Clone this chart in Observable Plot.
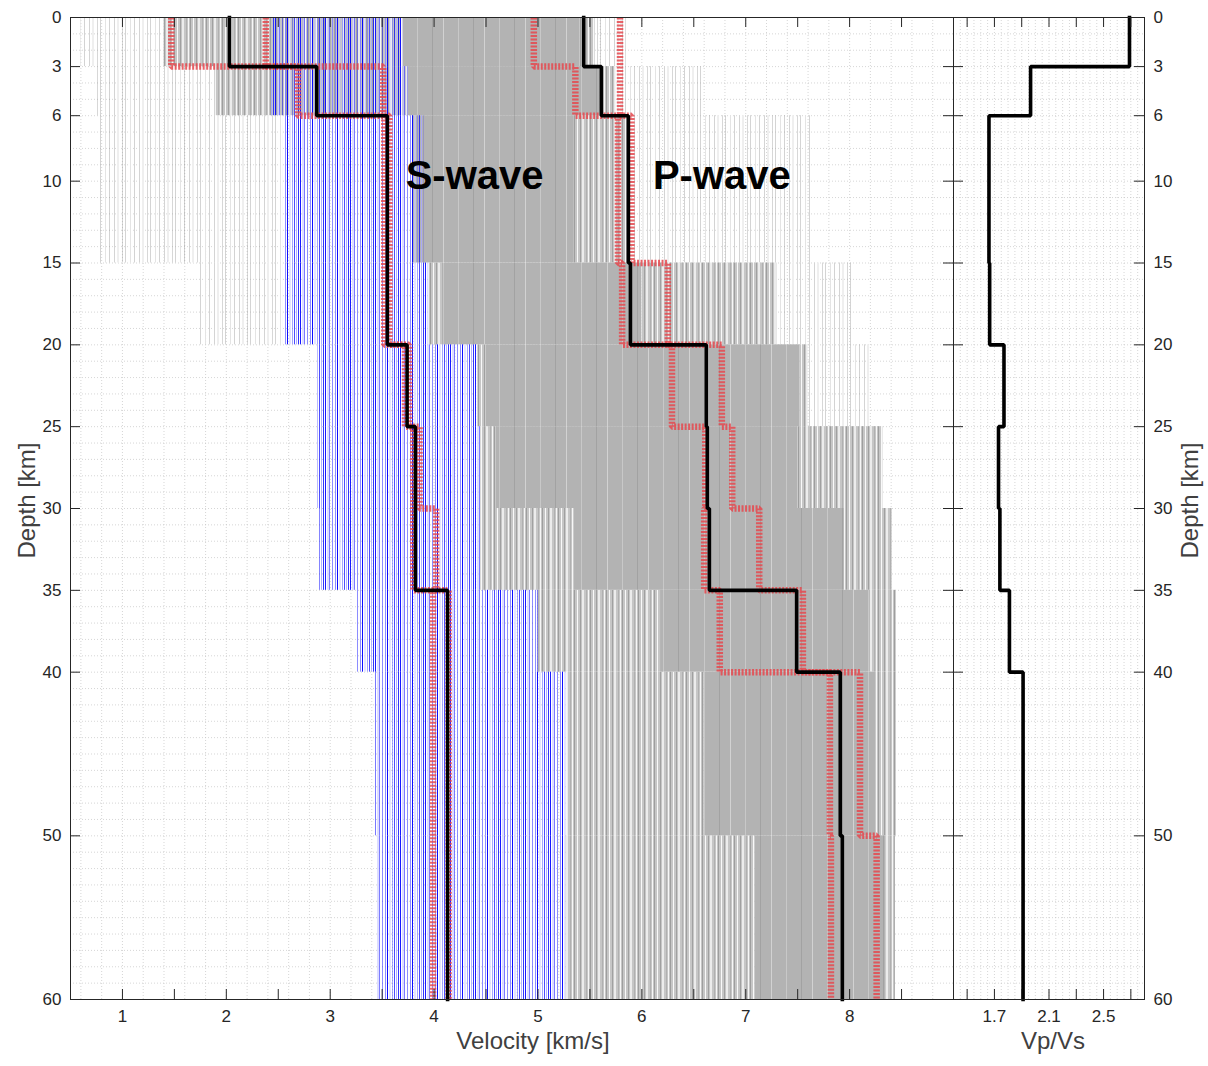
<!DOCTYPE html>
<html><head><meta charset="utf-8">
<script src="https://cdn.jsdelivr.net/npm/d3@7"></script>
<script src="https://cdn.jsdelivr.net/npm/@observablehq/plot@0.6"></script>
<style>
body{margin:0;background:#fff;}
#wrap{position:relative;width:1208px;height:1066px;overflow:hidden;background:#fff;}
</style></head><body>
<svg width="0" height="0" style="position:absolute">
<defs>
 <pattern id="patSparse" patternUnits="userSpaceOnUse" width="25" height="4">
  <line x1="0.5" x2="0.5" y1="0" y2="4" stroke="#b0b0b0" stroke-width="1" stroke-opacity="0.55"/>
  <line x1="5.5" x2="5.5" y1="0" y2="4" stroke="#e4e4e4" stroke-width="1"/>
  <line x1="9.5" x2="9.5" y1="0" y2="4" stroke="#808080" stroke-width="1" stroke-opacity="0.35"/>
  <line x1="14.5" x2="14.5" y1="0" y2="4" stroke="#d4d4d4" stroke-width="1"/>
  <line x1="18" x2="18" y1="0" y2="4" stroke="#efefef" stroke-width="2"/>
  <line x1="22.5" x2="22.5" y1="0" y2="4" stroke="#9a9a9a" stroke-width="1" stroke-opacity="0.4"/>
 </pattern>
 <pattern id="patMedium" patternUnits="userSpaceOnUse" width="16" height="4">
  <rect width="16" height="4" fill="#c6c6c6"/>
  <line x1="1.5" x2="1.5" y1="0" y2="4" stroke="#ffffff" stroke-width="1" stroke-opacity="0.9"/>
  <line x1="4.5" x2="4.5" y1="0" y2="4" stroke="#a0a0a0" stroke-width="1"/>
  <line x1="7" x2="7" y1="0" y2="4" stroke="#ececec" stroke-width="2"/>
  <line x1="10.5" x2="10.5" y1="0" y2="4" stroke="#b0b0b0" stroke-width="1"/>
  <line x1="12.5" x2="12.5" y1="0" y2="4" stroke="#f7f7f7" stroke-width="1"/>
  <line x1="14.5" x2="14.5" y1="0" y2="4" stroke="#8e8e8e" stroke-width="1" stroke-opacity="0.7"/>
 </pattern>
 <pattern id="patDense" patternUnits="userSpaceOnUse" width="41" height="4">
  <rect width="41" height="4" fill="#b3b3b3"/>
  <line x1="7.5" x2="7.5" y1="0" y2="4" stroke="#c8c8c8" stroke-width="1"/>
  <line x1="22.5" x2="22.5" y1="0" y2="4" stroke="#9b9b9b" stroke-width="1" stroke-opacity="0.7"/>
  <line x1="33.5" x2="33.5" y1="0" y2="4" stroke="#d2d2d2" stroke-width="1"/>
 </pattern>
 <pattern id="patBlue" patternUnits="userSpaceOnUse" width="25" height="4">
  <rect x="2" width="3" height="4" fill="#c0c0ff" fill-opacity="0.55"/>
  <rect x="14" width="2" height="4" fill="#d0d0ff" fill-opacity="0.6"/>
  <line x1="0.5" x2="0.5" y1="0" y2="4" stroke="#0000ff" stroke-width="1" stroke-opacity="0.9"/>
  <line x1="4.5" x2="4.5" y1="0" y2="4" stroke="#3c3cff" stroke-width="1" stroke-opacity="0.6"/>
  <line x1="7.5" x2="7.5" y1="0" y2="4" stroke="#0000ff" stroke-width="1" stroke-opacity="0.45"/>
  <line x1="10.5" x2="10.5" y1="0" y2="4" stroke="#7070ff" stroke-width="1" stroke-opacity="0.8"/>
  <line x1="12.5" x2="12.5" y1="0" y2="4" stroke="#0000ff" stroke-width="1" stroke-opacity="0.95"/>
  <line x1="17.5" x2="17.5" y1="0" y2="4" stroke="#5a5aff" stroke-width="1" stroke-opacity="0.55"/>
  <line x1="19.5" x2="19.5" y1="0" y2="4" stroke="#0000ff" stroke-width="1" stroke-opacity="0.7"/>
  <line x1="21.5" x2="21.5" y1="0" y2="4" stroke="#a8a8ff" stroke-width="1" stroke-opacity="0.9"/>
  <line x1="23.5" x2="23.5" y1="0" y2="4" stroke="#0000ff" stroke-width="1" stroke-opacity="0.8"/>
 </pattern>
</defs></svg>
<div id="wrap"></div>
<script>
// ---------- data ----------
const layerTop    = [0, 3, 6, 15, 20, 25, 30, 35, 40, 50];
const layerBottom = [3, 6, 15, 20, 25, 30, 35, 40, 50, 60];

// best model
const vsBest   = [2.03, 2.87, 3.55, 3.55, 3.74, 3.82, 3.82, 4.13, 4.13, 4.13];
const vpBest   = [5.44, 5.61, 5.87, 5.89, 6.62, 6.63, 6.65, 7.49, 7.91, 7.93];
const vpvsBest = [2.69, 1.965, 1.66, 1.665, 1.77, 1.73, 1.74, 1.81, 1.91, 1.91];

// confidence bounds (red dotted)
const vsLow  = [1.47, 2.69, 3.52, 3.52, 3.72, 3.80, 3.80, 3.99, 3.99, 3.99];
const vsHigh = [2.38, 3.51, 3.57, 3.57, 3.76, 3.86, 4.02, 4.14, 4.14, 4.14];
const vpLow  = [4.96, 5.36, 5.77, 5.81, 6.29, 6.61, 6.60, 6.75, 7.81, 7.82];
const vpHigh = [5.79, 5.79, 5.90, 6.25, 6.77, 6.87, 7.13, 7.55, 8.10, 8.26];

// ensemble extents per layer (km/s)
const grayMin        = [0.60, 0.75, 0.77, 1.75, null, null, null, null, null, null];
const grayLeftMedMin = [1.40, 1.90, null, null, null, null, null, null, null, null];
const grayLeftMedMax = [3.70, 3.75, null, null, null, null, null, null, null, null];
const blueMin        = [2.45, 2.43, 2.55, 2.55, 2.88, 2.88, 2.90, 3.26, 3.44, 3.45];
const blueMax        = [3.70, 3.75, 3.90, 3.95, 4.42, 4.45, 4.45, 5.00, 5.28, 5.27];
const denseMin       = [3.70, 3.75, 3.80, 4.10, 4.50, 4.60, 5.35, 6.18, 6.60, 7.09];
const denseMax       = [5.40, 5.60, 5.35, 6.00, 7.52, 7.50, 7.95, 8.20, 8.25, 8.35];
const mediumMax      = [5.55, 5.75, 5.90, 7.30, 7.60, 8.32, 8.41, 8.45, 8.45, 8.44];
const grayMax        = [5.85, 6.60, 7.65, 8.05, 8.20, 8.32, 8.41, 8.45, 8.45, 8.44];

// ticks
const depthTicks   = [0, 3, 6, 10, 15, 20, 25, 30, 35, 40, 50, 60];
const velTicks     = [1, 1.5, 2, 2.5, 3, 3.5, 4, 4.5, 5, 5.5, 6, 6.5, 7, 7.5, 8, 8.5];
const velLabels    = [1, 2, 3, 4, 5, 6, 7, 8];
const vpvsTicks    = [1.5, 1.7, 1.9, 2.1, 2.3, 2.5, 2.7];
const vpvsLabels   = [1.7, 2.1, 2.5];
const waveLabels   = ["S-wave", "P-wave"];
const waveLabelV   = [4.39, 6.77];
const waveLabelD   = [9.7, 9.7];

// ---------- derived tables ----------
function stairs(vals) {
  const pts = [];
  vals.forEach((v, i) => { pts.push({v, d: layerTop[i]}); pts.push({v, d: layerBottom[i]}); });
  return pts;
}
const zones = {sparse: [], medium: [], dense: [], blue: []};
layerTop.forEach((t, i) => {
  const b = layerBottom[i];
  const add = (k, x1, x2) => { if (x1 != null && x2 != null && x2 > x1) zones[k].push({x1, x2, t, b}); };
  add("sparse", grayMin[i], grayLeftMedMin[i] ?? blueMin[i]);
  add("medium", grayLeftMedMin[i], grayLeftMedMax[i]);
  add("medium", blueMax[i], denseMin[i]);
  add("dense", denseMin[i], denseMax[i]);
  add("medium", denseMax[i], mediumMax[i]);
  add("sparse", mediumMax[i], grayMax[i]);
  add("blue", blueMin[i], blueMax[i]);
});

const FONT = "'Liberation Sans', Arial, Helvetica, sans-serif";
const H = 1066, MT = 17, MB = 67;
const tickPx = 10;
const depthPerPx = 60 / (H - MT - MB);
const TICKFONT = 17, TITLEFONT = 24;
const labelColor = "#262626", titleColor = "#404040";

const gridStyle = {stroke: "#c4c4c4", strokeWidth: 0.7, strokeDasharray: "1,2"};
const depthGrid = d3.range(1, 60, 1);

// ---------- left panel ----------
const LW = 953, LML = 70;
const xDom = [0.5, 9.0];
const velPerPx = (xDom[1] - xDom[0]) / (LW - LML);
const zoneRect = (k, pat) => Plot.rect(zones[k], {x1: "x1", x2: "x2", y1: "t", y2: "b", fill: `url(#${pat})`});
const redStyle = {x: "v", y: "d", stroke: "#e5484d", strokeOpacity: 0.85, strokeWidth: 6.5, strokeDasharray: "2,1.5", strokeLinecap: "butt", strokeLinejoin: "miter"};
const blackStyle = {x: "v", y: "d", stroke: "#000", strokeWidth: 3.6, strokeLinecap: "square", strokeLinejoin: "miter"};
const tickStyle = {stroke: "#262626", strokeWidth: 1};

const left = Plot.plot({
  width: LW, height: H,
  marginLeft: LML, marginRight: 0, marginTop: MT, marginBottom: MB,
  x: {domain: xDom, axis: null},
  y: {domain: [0, 60], reverse: true, axis: null},
  style: {fontFamily: FONT, fontSize: "15px", background: "transparent", color: "#262626"},
  marks: [
    Plot.ruleX(d3.range(0.6, 9.0, 0.2), gridStyle),
    Plot.ruleY(depthGrid, gridStyle),
    zoneRect("sparse", "patSparse"),
    zoneRect("medium", "patMedium"),
    zoneRect("dense", "patDense"),
    zoneRect("blue", "patBlue"),
    Plot.line(stairs(vsLow), redStyle),
    Plot.line(stairs(vsHigh), redStyle),
    Plot.line(stairs(vpLow), redStyle),
    Plot.line(stairs(vpHigh), redStyle),
    Plot.line(stairs(vsBest), blackStyle),
    Plot.line(stairs(vpBest), blackStyle),
    Plot.text(waveLabels, {x: (d, i) => waveLabelV[i], y: (d, i) => waveLabelD[i], text: d => d,
      fontSize: 40, fontWeight: "bold", fill: "#000"}),
    Plot.frame({stroke: "#262626", strokeWidth: 1}),
    Plot.ruleX(velTicks, {x: d => d, y1: 0, y2: tickPx * depthPerPx, ...tickStyle}),
    Plot.ruleX(velTicks, {x: d => d, y1: 60 - tickPx * depthPerPx, y2: 60, ...tickStyle}),
    Plot.ruleY(depthTicks, {y: d => d, x1: xDom[0], x2: xDom[0] + tickPx * velPerPx, ...tickStyle}),
    Plot.ruleY(depthTicks, {y: d => d, x1: xDom[1] - tickPx * velPerPx, x2: xDom[1], ...tickStyle}),
    Plot.text(velLabels, {x: d => d, frameAnchor: "bottom", dy: 22, text: d => String(d), fill: labelColor, fontSize: TICKFONT}),
    Plot.text(depthTicks, {y: d => d, frameAnchor: "left", dx: -9, textAnchor: "end", text: d => String(d), fill: labelColor, fontSize: TICKFONT}),
    Plot.text(["Velocity [km/s]"], {frameAnchor: "bottom", textAnchor: "middle", dx: 21, dy: 49, text: d => d, fontSize: TITLEFONT, fill: titleColor}),
    Plot.text(["Depth [km]"], {frameAnchor: "left", textAnchor: "middle", rotate: -90, dx: -43, dy: -8, text: d => d, fontSize: TITLEFONT, fill: titleColor})
  ]
});

// ---------- right panel ----------
const RX = 953, RW = 255, RMR = 64;
const rDom = [1.4, 2.8];
const ratioPerPx = (rDom[1] - rDom[0]) / (RW - RMR);
const right = Plot.plot({
  width: RW, height: H,
  marginLeft: 0, marginRight: RMR, marginTop: MT, marginBottom: MB,
  x: {domain: rDom, axis: null},
  y: {domain: [0, 60], reverse: true, axis: null},
  style: {fontFamily: FONT, fontSize: "15px", background: "transparent", color: "#262626", overflow: "visible"},
  marks: [
    Plot.ruleX(d3.range(1.45, 2.79, 0.05), gridStyle),
    Plot.ruleY(depthGrid, gridStyle),
    Plot.line(stairs(vpvsBest), blackStyle),
    Plot.frame({stroke: "#262626", strokeWidth: 1}),
    Plot.ruleX(vpvsTicks, {x: d => d, y1: 0, y2: tickPx * depthPerPx, ...tickStyle}),
    Plot.ruleX(vpvsTicks, {x: d => d, y1: 60 - tickPx * depthPerPx, y2: 60, ...tickStyle}),
    Plot.ruleY(depthTicks, {y: d => d, x1: rDom[0], x2: rDom[0] + tickPx * ratioPerPx, ...tickStyle}),
    Plot.ruleY(depthTicks, {y: d => d, x1: rDom[1] - tickPx * ratioPerPx, x2: rDom[1], ...tickStyle}),
    Plot.text(vpvsLabels, {x: d => d, frameAnchor: "bottom", dy: 22, text: d => d.toFixed(1), fill: labelColor, fontSize: TICKFONT}),
    Plot.text(depthTicks, {y: d => d, frameAnchor: "right", dx: 9, textAnchor: "start", text: d => String(d), fill: labelColor, fontSize: TICKFONT}),
    Plot.text(["Vp/Vs"], {frameAnchor: "bottom", textAnchor: "middle", dx: 4, dy: 49, text: d => d, fontSize: TITLEFONT, fill: titleColor}),
    Plot.text(["Depth [km]"], {frameAnchor: "right", textAnchor: "middle", rotate: -90, dx: 46, dy: -8, text: d => d, fontSize: TITLEFONT, fill: titleColor})
  ]
});

const wrap = document.getElementById("wrap");
for (const [el, x] of [[left, 0], [right, RX]]) {
  el.style.position = "absolute";
  el.style.left = x + "px";
  el.style.top = "0px";
  el.style.maxWidth = "none";
  wrap.appendChild(el);
}
</script></body></html>
